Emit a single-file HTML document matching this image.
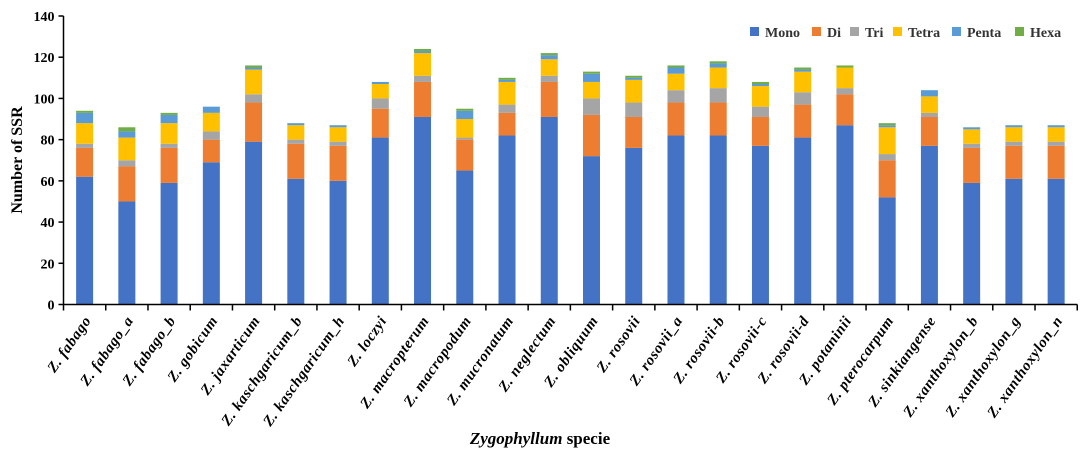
<!DOCTYPE html>
<html><head><meta charset="utf-8"><style>
body{margin:0;background:#fff;}
svg text{font-family:"Liberation Serif",serif;}
</style></head><body>
<svg id="c" width="1084" height="457" xmlns="http://www.w3.org/2000/svg"></svg>
<script>
const categories=["Z.  fabago","Z. fabago_a","Z.  fabago_b","Z.  gobicum","Z. jaxarticum","Z. kaschgaricum_b","Z. kaschgaricum_h","Z. loczyi","Z. macropterum","Z. macropodum","Z. mucronatum","Z. neglectum","Z. obliquum","Z. rosovii","Z. rosovii_a","Z. rosovii-b","Z. rosovii-c","Z. rosovii-d","Z. potaninii","Z. pterocarpum","Z. sinkiangense","Z. xanthoxylon_b","Z. xanthoxylon_g","Z. xanthoxylon_n"];
const mono=[62,50,59,69,79,61,60,81,91,65,82,91,72,76,82,82,77,81,87,52,77,59,61,61];
const di=[14,17,17,11,19,17,17,14,17,15,11,17,20,15,16,16,14,16,15,18,14,17,16,16];
const tri=[2,3,2,4,4,2,2,5,3,1,4,3,8,7,6,7,5,6,3,3,2,2,2,2];
const tetra=[10,11,10,9,12,7,7,7,11,9,11,8,8,11,8,10,10,10,10,13,8,7,7,7];
const penta=[5,3,4,3,1,1,1,1,1,4,1,2,4,1,3,2,1,1,0,1,3,1,1,1];
const hexa=[1,2,1,0,1,0,0,0,1,1,1,1,1,1,1,1,1,1,1,1,0,0,0,0];
const seriesNames=["Mono","Di","Tri","Tetra","Penta","Hexa"];
const seriesColors=["#4472c4","#ed7d31","#a5a5a5","#ffc000","#5b9bd5","#70ad47"];
const yTicks=[0,20,40,60,80,100,120,140];

const svg=document.getElementById('c');
const NS="http://www.w3.org/2000/svg";
const x0=63.5,band=42.24,y0=304.5,yTop=16,yMax=140;
const y=v=>y0-(v/yMax)*(y0-yTop);
const xc=i=>x0+band*(i+0.5);
function mk(t,a,p){const e=document.createElementNS(NS,t);for(const k in a)e.setAttribute(k,a[k]);(p||svg).appendChild(e);return e;}

const series=[mono,di,tri,tetra,penta,hexa];
categories.forEach((c,i)=>{
  let cum=0;
  series.forEach((s,k)=>{
    const v=s[i];if(v<=0)return;
    const r=mk('rect',{x:xc(i)-8.5,y:y(cum+v),width:17,height:y(cum)-y(cum+v),fill:seriesColors[k]});
    
    
    cum+=v;
  });
});
let ax=mk('line',{x1:x0,y1:yTop,x2:x0,y2:y0,stroke:'#000','stroke-width':1.5});

ax=mk('line',{x1:x0,y1:y0,x2:x0+band*categories.length,y2:y0,stroke:'#000','stroke-width':1.5});

yTicks.forEach(t=>{
  mk('line',{x1:x0-5,y1:y(t),x2:x0,y2:y(t),stroke:'#000','stroke-width':1.5});
  const tx=mk('text',{x:x0-9,y:y(t)+5,'text-anchor':'end','font-size':14,'font-weight':'bold'});
  tx.textContent=t;
  
});
for(let i=0;i<=categories.length;i++){
  mk('line',{x1:x0+band*i,y1:y0,x2:x0+band*i,y2:y0+6,stroke:'#000','stroke-width':1.5});
}
categories.forEach((c,i)=>{
  const px=xc(i)+7,py=y0+16;
  const t=mk('text',{x:px,y:py,'text-anchor':'end','font-size':15,'font-weight':'bold','font-style':'italic','letter-spacing':0.6,transform:`rotate(-55 ${px} ${py})`});
  t.textContent=c;
  
});
let t=mk('text',{x:22,y:160,'text-anchor':'middle','font-size':16,'font-weight':'bold',transform:'rotate(-90 22 160)'});
t.textContent='Number of SSR';
t=mk('text',{x:540,y:444,'text-anchor':'middle','font-size':17,'font-weight':'bold'});
t.innerHTML='<tspan font-style="italic">Zygophyllum</tspan> specie';

const lx=[750,812,850,893,952,1015];
seriesNames.forEach((n,k)=>{
  const g=mk('g',{});
  
  mk('rect',{x:lx[k],y:27,width:9,height:9,fill:seriesColors[k]},g);
  const tt=mk('text',{x:lx[k]+15,y:37,'font-size':14,'font-weight':'bold',fill:'#333'},g);tt.textContent=n;
});
</script>
</body></html>
